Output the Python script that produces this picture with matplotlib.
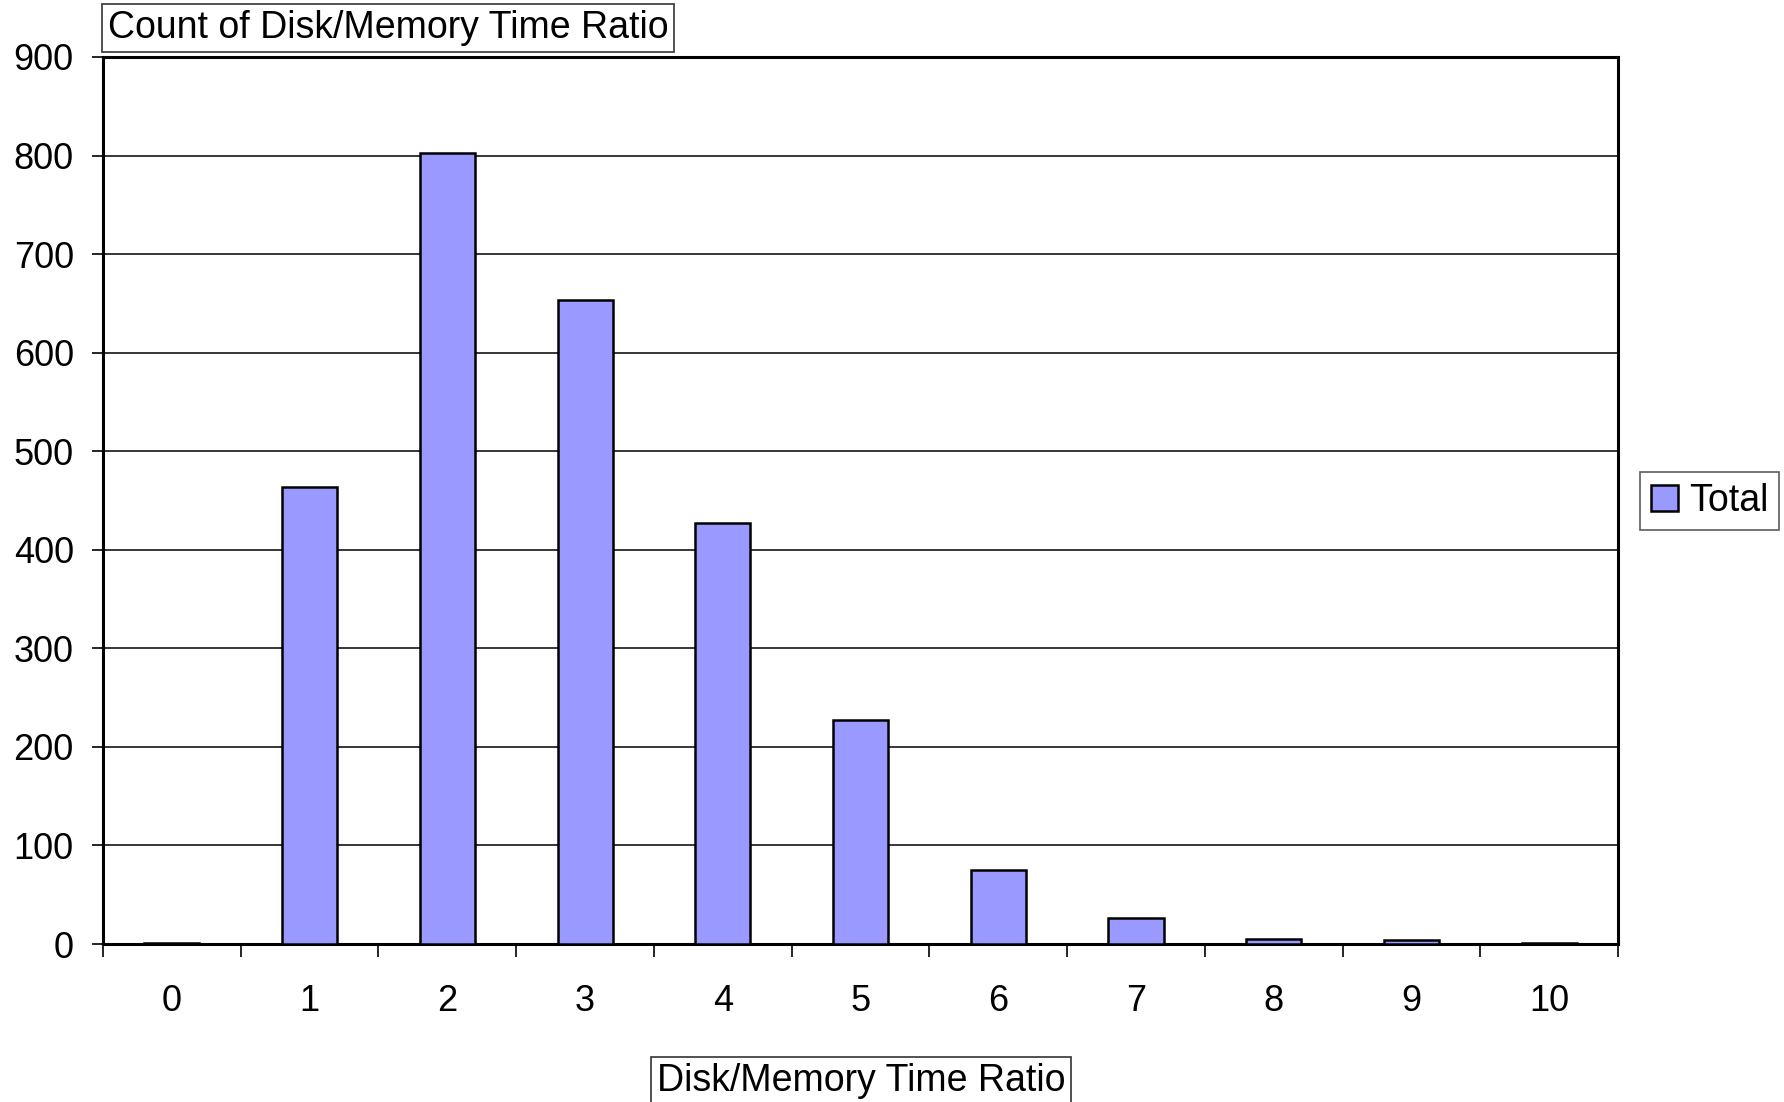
import numpy as np
from matplotlib import pyplot as plt
from matplotlib.ticker import FixedLocator

# histogram of disk/memory time ratio
ratio = [0, 1, 2, 3, 4, 5, 6, 7, 8, 9, 10]
count = [1, 464, 803, 653, 427, 227, 75, 26, 5, 4, 1]

plt.rcParams['font.family'] = ['Liberation Sans', 'DejaVu Sans']

fig = plt.figure(figsize=(17.84, 11.02), dpi=100)
ax = fig.add_axes([103 / 1784, 1 - 944 / 1102, (1618 - 103) / 1784, (944 - 57) / 1102])

x = np.arange(len(ratio))
ax.bar(x, count, width=0.4, color='#9999FF', edgecolor='black', linewidth=1.8,
       label='Total', zorder=3)

ax.set_xlim(-0.5, len(ratio) - 0.5)
ax.set_ylim(0, 900)
ax.set_yticks(range(0, 901, 100))
ax.set_xticks(x)
ax.set_xticklabels([str(r) for r in ratio])
ax.xaxis.set_minor_locator(FixedLocator(np.arange(-0.5, len(ratio), 1.0)))

ax.grid(axis='y', color='black', linewidth=1.1, zorder=0)
for s in ax.spines.values():
    s.set_linewidth(2.2)
    s.set_color('black')

ax.tick_params(axis='x', which='major', length=0, pad=29, labelsize=26)
ax.tick_params(axis='x', which='minor', length=9.5, width=1.2, direction='out')
ax.tick_params(axis='y', which='major', length=8, width=1.2, pad=13, labelsize=26)

# boxed axis captions
box = dict(boxstyle='square,pad=0.15', facecolor='white', edgecolor='#333333', linewidth=1.2)
fig.text(108 / 1784, 1 - 28 / 1102, 'Count of Disk/Memory Time Ratio', fontsize=27,
         ha='left', va='center', bbox=box)
fig.text(861 / 1784, 1 - 1081 / 1102, 'Disk/Memory Time Ratio', fontsize=27,
         ha='center', va='center', bbox=box)

leg = ax.legend(loc='center left', bbox_to_anchor=(1640 / 1784, 1 - 501 / 1102),
                bbox_transform=fig.transFigure, fontsize=27, frameon=True, fancybox=False,
                handlelength=0.7, handleheight=0.7, handletextpad=0.3, borderpad=0.3,
                borderaxespad=0)
leg.get_frame().set_edgecolor('#333333')
leg.get_frame().set_linewidth(1.2)

fig.savefig('out.png', dpi=100)
